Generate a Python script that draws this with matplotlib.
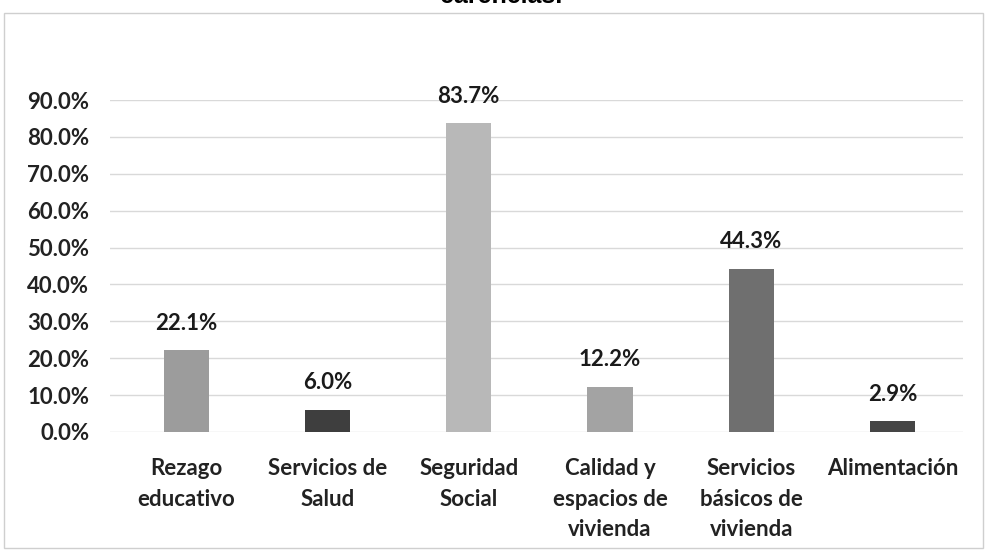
import matplotlib.pyplot as plt
from matplotlib.patches import Rectangle
from matplotlib.ticker import FuncFormatter

categories = ["Rezago\neducativo", "Servicios de\nSalud", "Seguridad\nSocial",
              "Calidad y\nespacios de\nvivienda", "Servicios\nbásicos de\nvivienda",
              "Alimentación"]
values = [22.1, 6.0, 83.7, 12.2, 44.3, 2.9]
bar_colors = ["#9c9c9c", "#3e3e3e", "#b8b8b8", "#a3a3a3", "#6f6f6f", "#454545"]
y_ticks = [0, 10, 20, 30, 40, 50, 60, 70, 80, 90]

plt.rcParams['font.family'] = ['Lato', 'DejaVu Sans']

fig = plt.figure(figsize=(9.87, 5.52), dpi=100)
ax = fig.add_axes([0.1115, 0.2174, 0.8642, 0.6014])

x = range(len(categories))
bars = ax.bar(x, values, width=0.32, color=bar_colors, zorder=3)

for i, v in enumerate(values):
    ax.annotate(f"{v:.1f}%", (i, v), xytext=(0, 12), textcoords="offset points",
                ha="center", va="bottom", fontsize=16, fontweight="bold",
                color="#1a1a1a", annotation_clip=False)

ax.set_xlim(-0.54, 5.5)
ax.set_ylim(0, 90)
ax.set_yticks(y_ticks)
ax.yaxis.set_major_formatter(FuncFormatter(lambda v, p: f"{v:.1f}%"))
ax.set_xticks(list(x))
ax.set_xticklabels(categories, linespacing=1.55, va="top")
ax.grid(axis="y", color="#d9d9d9", linewidth=1, zorder=0)
for s in ax.spines.values():
    s.set_visible(False)
ax.tick_params(axis="both", length=0, labelsize=16, colors="#222222")
ax.tick_params(axis="x", pad=19)
ax.tick_params(axis="y", pad=15)
for lab in ax.get_xticklabels() + ax.get_yticklabels():
    lab.set_fontweight("bold")

# chart frame and cut-off title
fig.patches.append(Rectangle((4 / 987, 4 / 552), 979 / 987, 535 / 552,
                             transform=fig.transFigure, fill=False,
                             edgecolor="#cfcfcf", linewidth=1))
fig.text(501 / 987, 1 - 3 / 552, "carencias.", ha="center", va="baseline",
         fontsize=18, fontweight="bold", family="Liberation Sans")

fig.savefig("out.png", dpi=100)
